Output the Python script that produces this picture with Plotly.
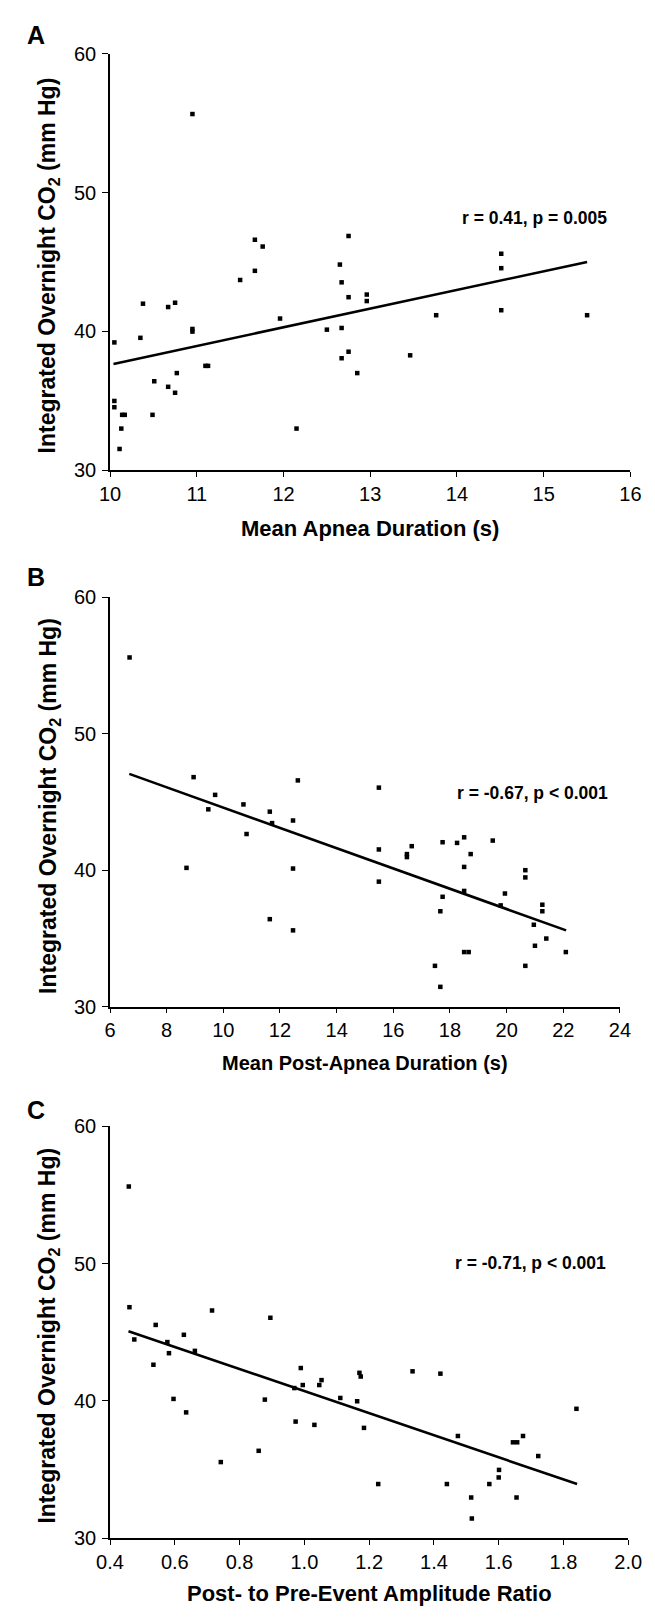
import plotly.graph_objects as go

# ---------------- data ----------------
A_x = [10.05, 10.05, 10.05, 10.14, 10.17, 10.13, 10.11, 10.35, 10.38, 10.49, 10.51, 10.67, 10.67,
       10.75, 10.75, 10.77, 10.95, 10.95, 10.95, 11.10, 11.13, 11.50, 11.67, 11.67, 11.76, 11.96,
       12.15, 12.50, 12.65, 12.67, 12.67, 12.67, 12.75, 12.75, 12.75, 12.85, 12.96, 12.96, 13.46,
       13.76, 14.51, 14.51, 14.51, 15.50]
A_y = [39.20, 34.98, 34.53, 33.98, 33.98, 32.99, 31.52, 39.53, 41.99, 33.98, 36.40, 41.75, 36.00,
       42.06, 35.57, 36.99, 55.66, 40.17, 39.98, 37.51, 37.51, 43.70, 46.60, 44.36, 46.11, 40.92,
       32.99, 40.12, 44.81, 43.53, 40.24, 38.06, 46.87, 42.46, 38.53, 36.99, 42.65, 42.18, 38.27,
       41.16, 45.59, 44.55, 41.52, 41.16]
A_fit_x = [10.04, 15.50]
A_fit_y = [37.65, 45.00]

B_x = [6.69, 8.95, 8.70, 9.47, 9.71, 10.71, 10.82, 11.64, 11.72, 11.64, 12.46, 12.46, 12.46, 12.63,
       15.49, 15.49, 15.49, 16.48, 16.48, 16.65, 17.74, 17.74, 17.66, 17.47, 17.66, 18.25, 18.50,
       18.73, 18.50, 18.50, 18.50, 18.66, 19.51, 19.94, 19.79, 20.66, 20.66, 20.66, 20.96, 21.00,
       21.26, 21.26, 21.40, 22.09]
B_y = [55.59, 46.82, 40.17, 44.46, 45.52, 44.82, 42.65, 44.29, 43.45, 36.41, 43.64, 40.12, 35.59,
       46.58, 46.05, 41.52, 39.16, 41.18, 40.96, 41.76, 42.05, 38.05, 36.99, 32.99, 31.45, 42.00,
       42.41, 41.18, 40.24, 38.48, 34.00, 34.00, 42.17, 38.29, 37.42, 40.00, 39.47, 32.99, 36.00,
       34.46, 37.47, 36.99, 34.99, 34.00]
B_fit_x = [6.68, 22.10]
B_fit_y = [47.06, 35.59]

C_x = [0.458, 0.460, 0.475, 0.534, 0.541, 0.577, 0.582, 0.596, 0.628, 0.635, 0.662, 0.715, 0.742,
       0.859, 0.878, 0.895, 0.969, 0.973, 0.989, 0.995, 1.031, 1.046, 1.053, 1.111, 1.163, 1.170,
       1.174, 1.184, 1.228, 1.334, 1.420, 1.440, 1.474, 1.515, 1.517, 1.571, 1.600, 1.601, 1.644,
       1.657, 1.675, 1.655, 1.722, 1.840]
C_y = [55.62, 46.83, 44.48, 42.64, 45.54, 44.29, 43.48, 40.15, 44.82, 39.17, 43.65, 46.59, 35.55,
       36.37, 40.10, 46.06, 40.94, 38.50, 42.40, 41.16, 38.26, 41.16, 41.52, 40.22, 39.98, 42.05,
       41.78, 38.04, 33.95, 42.16, 41.99, 33.95, 37.45, 32.97, 31.44, 33.95, 34.43, 34.98, 36.99,
       36.99, 37.45, 32.97, 35.99, 39.43]
C_fit_x = [0.457, 1.842]
C_fit_y = [45.08, 33.95]

panel_letters = ["A", "B", "C"]
x_titles = ["Mean Apnea Duration (s)", "Mean Post-Apnea Duration (s)", "Post- to Pre-Event Amplitude Ratio"]
y_title = "Integrated Overnight CO<sub>2</sub> (mm Hg)"
stats = ["r = 0.41, p = 0.005", "r = -0.67, p < 0.001", "r = -0.71, p < 0.001"]
x_ranges = [[10, 16], [6, 24], [0.4, 2.0]]
x_dticks = [1, 2, 0.2]
x_formats = ["d", "d", ".1f"]
y_range = [30, 60]

# ---------------- layout geometry (screen pixels) ----------------
OFF = 8                      # default page margin around the plot div
W, H = 655 - OFF, 1620 - OFF
# (left, right, top, bottom) of each plot area on screen
boxes = [(100, 644, 43.3, 465.3), (100, 633, 594.3, 1009.3), (100, 641.7, 1130.7, 1548.3)]
letter_pos = [(22.5, 24), (22.5, 574), (22.5, 1114)]
ytitle_pos = [(36, 258), (36, 806), (36, 1343)]
xtitle_y = [525, 1066, 1604]
xtitle_size = [22, 20, 22]
stat_pos = [(544, 210), (542, 793), (539, 1269)]


def px(x):
    return (x - OFF) / W


def py(y):
    return 1 - (y - OFF) / H


FONT = "Liberation Sans, Arial, sans-serif"

fig = go.Figure()
series = [(A_x, A_y, A_fit_x, A_fit_y), (B_x, B_y, B_fit_x, B_fit_y), (C_x, C_y, C_fit_x, C_fit_y)]
for i, (sx, sy, fx, fy) in enumerate(series):
    xa = "x" if i == 0 else f"x{i+1}"
    ya = "y" if i == 0 else f"y{i+1}"
    fig.add_trace(go.Scatter(x=fx, y=fy, mode="lines", xaxis=xa, yaxis=ya,
                             line=dict(color="black", width=2.6), showlegend=False,
                             hoverinfo="skip"))
    fig.add_trace(go.Scatter(x=sx, y=sy, mode="markers", xaxis=xa, yaxis=ya,
                             marker=dict(symbol="square", size=4.5, color="black",
                                         line=dict(width=0)),
                             showlegend=False, cliponaxis=False))

layout = dict(width=W, height=H, margin=dict(l=0, r=0, t=0, b=0),
              paper_bgcolor="white", plot_bgcolor="white", showlegend=False,
              font=dict(family=FONT, color="black"))
annotations = []
for i, (l, r, t, b) in enumerate(boxes):
    xk = "xaxis" if i == 0 else f"xaxis{i+1}"
    yk = "yaxis" if i == 0 else f"yaxis{i+1}"
    ya = "y" if i == 0 else f"y{i+1}"
    xa = "x" if i == 0 else f"x{i+1}"
    layout[xk] = dict(domain=[px(l), px(r)], range=x_ranges[i], dtick=x_dticks[i],
                      tick0=x_ranges[i][0], tickformat=x_formats[i], anchor=ya,
                      showline=True, linecolor="black", linewidth=1.6, mirror=False,
                      ticks="outside", ticklen=5, tickwidth=1.4, tickcolor="black",
                      showgrid=False, zeroline=False, fixedrange=True,
                      tickfont=dict(family=FONT, size=20, color="black"))
    layout[yk] = dict(domain=[py(b), py(t)], range=y_range, dtick=10, anchor=xa,
                      showline=True, linecolor="black", linewidth=1.6, mirror=False,
                      ticks="outside", ticklen=6, tickwidth=1.4, tickcolor="black",
                      showgrid=False, zeroline=False, fixedrange=True, ticklabelstandoff=2,
                      tickfont=dict(family=FONT, size=20, color="black"))
    lx, ly = letter_pos[i]
    annotations.append(dict(text=panel_letters[i], x=px(lx), y=py(ly), xref="paper", yref="paper",
                            showarrow=False, xanchor="center", yanchor="middle",
                            font=dict(family=FONT, size=25, color="black", weight="bold")))
    tx, ty = ytitle_pos[i]
    annotations.append(dict(text=y_title, x=px(tx), y=py(ty), xref="paper", yref="paper",
                            showarrow=False, textangle=-90, xanchor="center", yanchor="middle",
                            font=dict(family=FONT, size=23, color="black", weight="bold")))
    annotations.append(dict(text=x_titles[i], x=px((l + r) / 2), y=py(xtitle_y[i]),
                            xref="paper", yref="paper", showarrow=False,
                            xanchor="center", yanchor="middle",
                            font=dict(family=FONT, size=xtitle_size[i], color="black", weight="bold")))
    sx_, sy_ = stat_pos[i]
    annotations.append(dict(text=stats[i], x=px(sx_), y=py(sy_), xref="paper", yref="paper",
                            showarrow=False, xanchor="center", yanchor="middle",
                            font=dict(family=FONT, size=17.5, color="black", weight="bold")))
layout["annotations"] = annotations
fig.update_layout(**layout)
fig.write_html("out.html")
